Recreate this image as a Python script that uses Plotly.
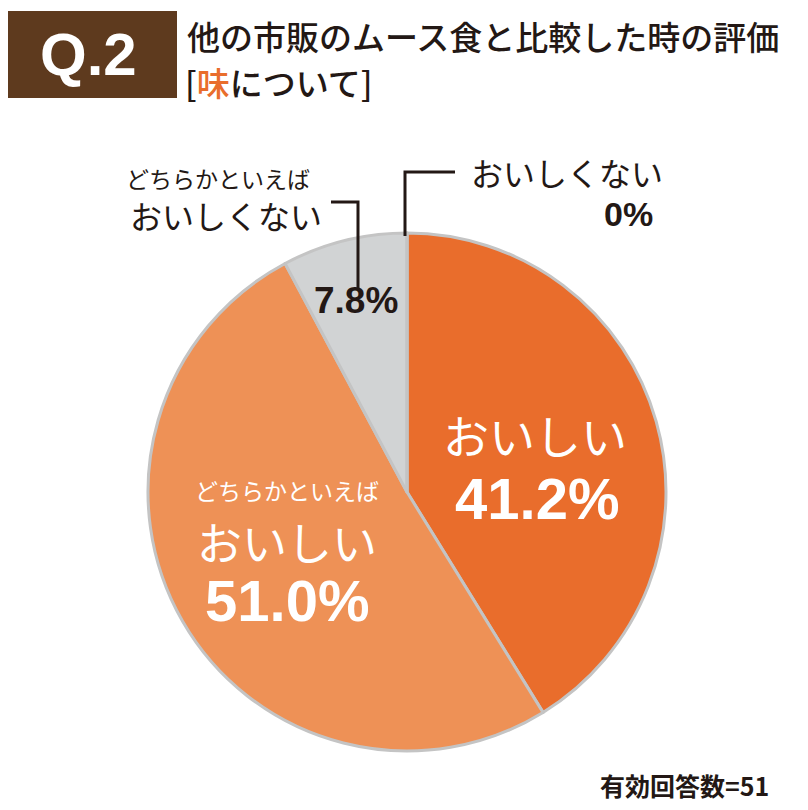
import plotly.graph_objects as go

# 評価カテゴリと割合(%)
labels = ["おいしい", "どちらかといえば<br>おいしい", "どちらかといえば<br>おいしくない", "おいしくない"]
values = [41.2, 51.0, 7.8, 0]
colors = ["#E96D2C", "#EE9156", "#D1D3D4", "#FFFFFF"]
n_answers = 51

JP = "Noto Sans CJK JP"
NUM = "Liberation Sans, Noto Sans CJK JP"

W, H = 808, 810
OFF = 8  # the page body puts the plot 8px in from the corner


def px(x):
    return (x - OFF) / W


def py(y):
    return 1 - (y - OFF) / H


fig = go.Figure()

fig.add_trace(go.Pie(
    labels=labels,
    values=values,
    sort=False,
    direction="clockwise",
    rotation=0,
    textinfo="none",
    hoverinfo="label+percent",
    marker=dict(colors=colors, line=dict(color="#C4C4C4", width=3)),
    domain=dict(x=[px(148), px(666)], y=[py(751), py(233)]),
    showlegend=False,
))


def pct(v):
    return "%.1f%%" % v if v else "0%"


annotations = []


def note(x, y, text, size, color="#231815", family=JP, xanchor="center", weight=None):
    font = dict(family=family, size=size, color=color)
    if weight:
        font["weight"] = weight
    annotations.append(dict(
        x=px(x), y=py(y), xref="paper", yref="paper",
        text=text, showarrow=False, xanchor=xanchor, yanchor="middle",
        font=font,
    ))


# title block
note(88, 55, "<b>Q.2</b>", 60, color="#FFFFFF", family=NUM)
note(185, 36, "他の市販のムース食と比較した時の評価", 33, xanchor="left", weight=500)
note(183, 82, "[<span style='color:#E96D2C'>味</span>について]", 33, xanchor="left", weight=500)

# slice labels
note(535, 434, "おいしい", 46, color="#FFFFFF")
note(537, 498, "<b>" + pct(values[0]) + "</b>", 58, color="#FFFFFF", family=NUM)

note(287, 490, "どちらかといえば", 23, color="#FFFFFF")
note(287, 541, "おいしい", 45, color="#FFFFFF")
note(287, 600, "<b>" + pct(values[1]) + "</b>", 58, color="#FFFFFF", family=NUM)

note(356, 300, "<b>" + pct(values[2]) + "</b>", 37, family=NUM)
note(218, 178, "どちらかといえば", 23)
note(226, 215, "おいしくない", 32)

note(567, 172, "おいしくない", 32)
note(628, 214, "<b>" + pct(values[3]) + "</b>", 34, family=NUM)

note(684, 785, "<b>有効回答数=%d</b>" % n_answers, 25)

fig.update_layout(
    width=W,
    height=H,
    margin=dict(l=0, r=0, t=0, b=0),
    paper_bgcolor="#FFFFFF",
    plot_bgcolor="#FFFFFF",
    annotations=annotations,
    shapes=[
        dict(type="rect", xref="paper", yref="paper",
             x0=px(4), x1=px(177), y0=py(98), y1=py(11),
             fillcolor="#5E3A1E", line=dict(width=0), layer="below"),
        dict(type="path", xref="paper", yref="paper",
             path="M %f,%f L %f,%f L %f,%f" % (px(331), py(202), px(358), py(202),
                                               px(358), py(290)),
             line=dict(color="#231815", width=3)),
        dict(type="path", xref="paper", yref="paper",
             path="M %f,%f L %f,%f L %f,%f" % (px(405), py(236), px(405), py(172),
                                               px(455), py(172)),
             line=dict(color="#231815", width=3)),
    ],
)

fig.write_html("out.html")
